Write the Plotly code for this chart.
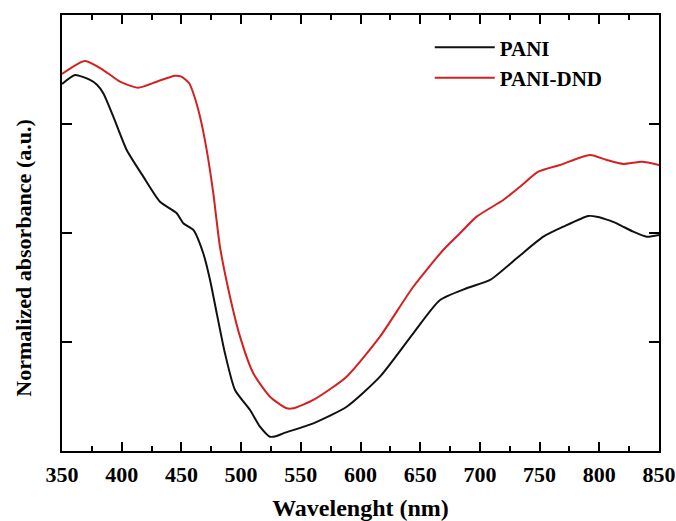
import plotly.graph_objects as go

wl_pani = [350, 360.9, 373.5, 379.3, 384.6, 393.0, 404.2, 418.1, 432.1, 446.1, 451.6, 460.0,
           468.3, 474.0, 479.6, 486.5, 494.9, 507.5, 515.8, 524.2, 529.8, 535.3,
           560.5, 588.4, 616.3, 644.2, 666.6, 688.9, 708.5, 730.8, 753.1, 769.9,
           790.8, 797.8, 809.0, 817.3, 828.5, 839.7, 850]
abs_pani = [3.367, 3.450, 3.404, 3.360, 3.282, 3.067, 2.761, 2.517, 2.287, 2.181, 2.089, 2.028,
            1.814, 1.569, 1.263, 0.896, 0.560, 0.376, 0.223, 0.131, 0.138, 0.162,
            0.254, 0.406, 0.682, 1.080, 1.385, 1.493, 1.569, 1.768, 1.966, 2.058,
            2.156, 2.150, 2.113, 2.073, 2.012, 1.966, 1.982]

wl_dnd = [350, 369.3, 384.6, 398.6, 413.9, 429.3, 444.6, 450.0, 456.4, 460.0, 465.6, 471.2,
          476.7, 482.3, 490.7, 499.1, 510.2, 524.2, 538.2, 543.7, 560.5, 588.4,
          616.3, 644.2, 669.3, 683.3, 697.3, 719.6, 733.6, 748.9, 767.1, 792.2,
          806.2, 820.1, 835.5, 850]
abs_dnd = [3.459, 3.578, 3.495, 3.388, 3.333, 3.388, 3.443, 3.435, 3.376, 3.282, 3.067, 2.761,
           2.367, 1.874, 1.416, 1.049, 0.713, 0.498, 0.392, 0.392, 0.468, 0.682,
           1.049, 1.507, 1.844, 1.997, 2.150, 2.303, 2.425, 2.562, 2.624, 2.716,
           2.670, 2.633, 2.654, 2.624]

x_ticks = [350, 400, 450, 500, 550, 600, 650, 700, 750, 800, 850]
y_ticks = [1, 2, 3]

FONT = "Liberation Serif, Times New Roman, serif"

fig = go.Figure()
fig.add_trace(go.Scatter(x=wl_pani, y=abs_pani, mode="lines", name="PANI",
                         line=dict(color="#111111", width=2, shape="spline", smoothing=0.6)))
fig.add_trace(go.Scatter(x=wl_dnd, y=abs_dnd, mode="lines", name="PANI-DND",
                         line=dict(color="#d42020", width=2, shape="spline", smoothing=0.6)))

fig.update_layout(
    width=676, height=521,
    margin=dict(l=62, r=17, t=15, b=70),
    paper_bgcolor="white", plot_bgcolor="white",
    font=dict(family=FONT, color="black"),
    showlegend=True,
    legend=dict(x=0.616, y=0.972, xanchor="left", yanchor="top",
                bgcolor="rgba(0,0,0,0)", itemwidth=60,
                font=dict(family=FONT, size=21, weight="bold", color="black"),
                tracegroupgap=6),
    xaxis=dict(range=[350, 850], tickvals=x_ticks, ticks="inside", ticklen=9,
               tickwidth=1.5, tickcolor="black", automargin=False,
               ticklabelstandoff=3,
               minor=dict(dtick=25, tick0=350, ticks="inside", ticklen=5, tickwidth=1.5, tickcolor="black"),
               showline=True, linecolor="black", linewidth=2, mirror="ticks",
               showgrid=False, zeroline=False,
               tickfont=dict(family=FONT, size=22, weight="bold", color="black"),
               title=dict(text="Wavelenght (nm)", standoff=18,
                          font=dict(family=FONT, size=24, weight="bold", color="black"))),
    yaxis=dict(range=[0, 4], tickvals=y_ticks, ticktext=["", "", ""], ticks="inside",
               ticklen=10, tickwidth=1.5, tickcolor="black", automargin=False,
               showline=True, linecolor="black", linewidth=2, mirror="ticks",
               showgrid=False, zeroline=False),
    annotations=[dict(text="<b>Normalized absorbance (a.u.)</b>", textangle=-90,
                      xref="paper", yref="paper", x=-0.064, y=0.443,
                      xanchor="center", yanchor="middle", showarrow=False,
                      font=dict(family=FONT, size=22, color="black"))],
)

fig.write_html("out.html")
